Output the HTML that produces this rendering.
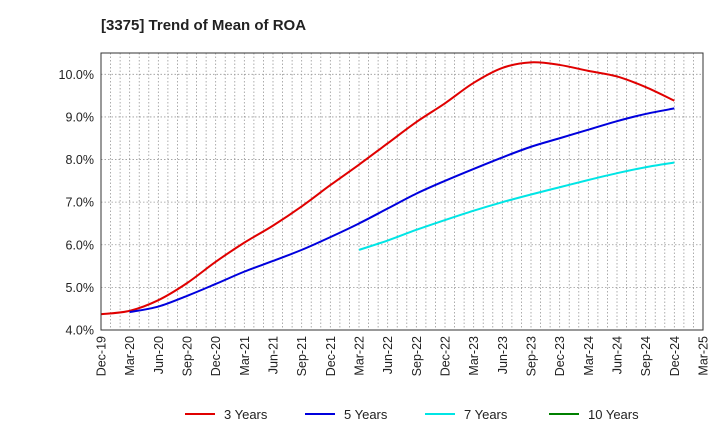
<!DOCTYPE html>
<html><head><meta charset="utf-8"><style>
body{margin:0;background:#fff;font-family:"Liberation Sans",Arial,sans-serif}
</style></head><body>
<svg id="c" width="720" height="440" xmlns="http://www.w3.org/2000/svg">
<text x="101" y="30" font-size="15" font-weight="bold" fill="#222">[3375]  Trend of Mean of ROA</text>
<rect x="101" y="53" width="602" height="277" fill="#fff"/>
<g id="grid"></g><g id="series"></g>
<rect x="101" y="53" width="602" height="277" fill="none" stroke="#333" stroke-width="1"/>
<g id="axes"></g><g id="legend"></g>
</svg>
<script>
const xLabels=["Dec-19","Mar-20","Jun-20","Sep-20","Dec-20","Mar-21","Jun-21","Sep-21","Dec-21","Mar-22","Jun-22","Sep-22","Dec-22","Mar-23","Jun-23","Sep-23","Dec-23","Mar-24","Jun-24","Sep-24","Dec-24","Mar-25"];
const yTicks=[4,5,6,7,8,9,10];
const s3=[4.37,4.45,4.7,5.1,5.6,6.05,6.45,6.9,7.4,7.88,8.38,8.88,9.32,9.8,10.15,10.28,10.22,10.08,9.95,9.7,9.38];
const s5=[null,4.42,4.55,4.8,5.08,5.37,5.62,5.88,6.18,6.5,6.85,7.2,7.5,7.78,8.05,8.3,8.5,8.7,8.9,9.07,9.2];
const s7=[null,null,null,null,null,null,null,null,null,5.88,6.1,6.35,6.58,6.8,7.0,7.18,7.35,7.52,7.68,7.82,7.93];
const s10=[];
const NS="http://www.w3.org/2000/svg";
const L=101,R=703,T=53,B=330,yMin=4,yMax=10.5,months=63;
const xq=i=>L+(i*3)*(R-L)/months;
const xm=m=>L+m*(R-L)/months;
const y=v=>B-(v-yMin)*(B-T)/(yMax-yMin);
function mk(tag,attrs,parent){const e=document.createElementNS(NS,tag);for(const k in attrs)e.setAttribute(k,attrs[k]);parent.appendChild(e);return e;}
const grid=document.getElementById('grid'),axes=document.getElementById('axes');
for(let m=1;m<months;m++){const g=mk('line',{x1:xm(m),x2:xm(m),y1:T,y2:B,stroke:'#999','stroke-dasharray':'1.5,2','stroke-width':0.8},grid);

}
yTicks.forEach(v=>{const g=mk('line',{x1:L,x2:R,y1:y(v),y2:y(v),stroke:'#999','stroke-dasharray':'1.5,2','stroke-width':0.8},grid);


const t=mk('text',{x:L-7,y:y(v)+4.5,'text-anchor':'end','font-size':12.5,fill:'#222'},axes);t.textContent=v.toFixed(1)+'%';

});
xLabels.forEach((lab,i)=>{const x=xq(i);const t=mk('text',{transform:`translate(${x+4.5},${B+6}) rotate(-90)`,'text-anchor':'end','font-size':12.5,fill:'#222'},axes);t.textContent=lab;

});
function path(data){const p=[];data.forEach((v,i)=>{if(v!=null)p.push([xq(i),y(v)]);});if(p.length<2)return '';
let d=`M${p[0][0]},${p[0][1]}`;for(let i=0;i<p.length-1;i++){const p0=p[i-1]||p[i],p1=p[i],p2=p[i+1],p3=p[i+2]||p2;
d+=` C${p1[0]+(p2[0]-p0[0])/6},${p1[1]+(p2[1]-p0[1])/6} ${p2[0]-(p3[0]-p1[0])/6},${p2[1]-(p3[1]-p1[1])/6} ${p2[0]},${p2[1]}`;}return d;}
const ser=document.getElementById('series');
[[s3,'#e00000','series-3-years'],[s5,'#0000dd','series-5-years'],[s7,'#00e5e5','series-7-years'],[s10,'#008000','series-10-years']].forEach(([d,c,n])=>{const pd=path(d);if(!pd)return;
const e=mk('path',{d:pd,fill:'none',stroke:c,'stroke-width':2},ser);

});
const leg=document.getElementById('legend');
[['3 Years','#e00000',185],['5 Years','#0000dd',305],['7 Years','#00e5e5',425],['10 Years','#008000',549]].forEach(([n,c,x])=>{
const g=mk('g',{},leg);


mk('line',{x1:x,x2:x+30,y1:414,y2:414,stroke:c,'stroke-width':2},g);
const t=mk('text',{x:x+39,y:419,'font-size':13,fill:'#222'},g);t.textContent=n;});
</script>
</body></html>
